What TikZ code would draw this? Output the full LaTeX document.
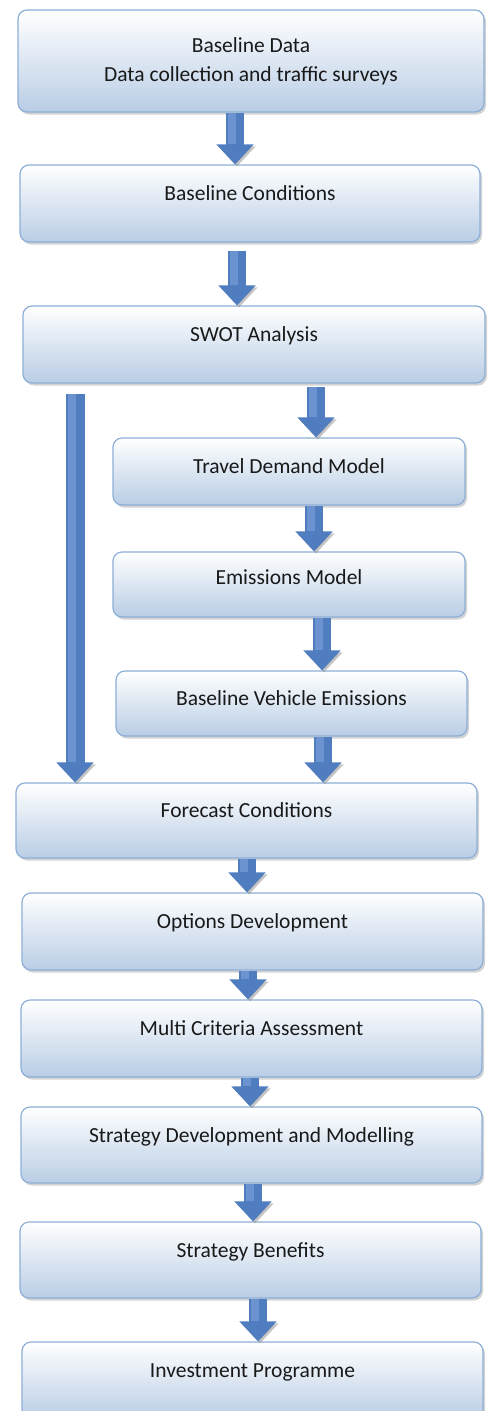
\documentclass[tikz,border=0pt]{standalone}
\usepackage{fontspec}
\setmainfont{Carlito}
\usetikzlibrary{arrows.meta,shadows}
\definecolor{boxline}{RGB}{141,175,215}
\definecolor{boxfill}{RGB}{185,205,229}
\definecolor{flowblue}{RGB}{79,125,192}
\definecolor{flowlight}{RGB}{106,147,207}

\begin{document}
\begin{tikzpicture}[x=1pt, y=-1pt,
  box/.style={draw=boxline, line width=1.2pt, rounded corners=9pt,
    top color=white, bottom color=boxfill,
    drop shadow={shadow xshift=2pt, shadow yshift=-2.5pt, opacity=0.35},
    inner sep=0pt, font=\fontsize{21.5}{29}\selectfont, text=black!90,
    align=center, text height=14pt, text depth=20pt},
  flow/.style={flowblue, line width=18pt, -{Triangle[width=36pt,length=20pt]},
    preaction={draw=black!45, opacity=0.5, transform canvas={shift={(2pt,-2pt)}}},
    postaction={draw=flowlight, line width=8pt, -, shorten >=20pt,
      transform canvas={xshift=-3pt}}}]
\useasboundingbox (0,0) rectangle (488,1411);
\node[box, minimum width=466pt, minimum height=102pt, text height=, text depth=] (base) at (251, 61) {Baseline Data\\Data collection and traffic surveys};
\node[box, minimum width=460pt, minimum height=77pt] (cond) at (250, 203.5) {Baseline Conditions};
\node[box, minimum width=462pt, minimum height=77pt] (swot) at (254, 344.5) {SWOT Analysis};
\node[box, minimum width=352pt, minimum height=67pt, text depth=10pt] (tdm) at (289, 471.5) {Travel Demand Model};
\node[box, minimum width=352pt, minimum height=65pt, text depth=14pt] (emis) at (289, 584.5) {Emissions Model};
\node[box, minimum width=351pt, minimum height=65pt, text depth=10pt] (bve) at (291.5, 703.5) {Baseline Vehicle Emissions};
\node[box, minimum width=461pt, minimum height=75pt] (fore) at (246.5, 820.5) {Forecast Conditions};
\node[box, minimum width=461pt, minimum height=77pt] (opts) at (252.5, 931.5) {Options Development};
\node[box, minimum width=461pt, minimum height=77pt] (mca) at (251.5, 1038.5) {Multi Criteria Assessment};
\node[box, minimum width=461pt, minimum height=76pt] (sdm) at (251.5, 1145) {Strategy Development and Modelling};
\node[box, minimum width=461pt, minimum height=76pt] (sben) at (250.5, 1260) {Strategy Benefits};
\node[box, minimum width=461pt, minimum height=77pt] (inv) at (252.5, 1380.5) {Investment Programme};
\draw[flow] (base.south -| 235,0) -- (cond.north -| 235,0);
\draw[flow, shorten <=8pt] (cond.south -| 237,0) -- (swot.north -| 237,0);
\draw[flow, shorten <=3pt] (swot.south -| 316,0) -- (tdm.north -| 316,0);
\draw[flow] (tdm.south -| 314,0) -- (emis.north -| 314,0);
\draw[flow] (emis.south -| 322,0) -- (bve.north -| 322,0);
\draw[flow] (bve.south -| 323,0) -- (fore.north -| 323,0);
\draw[flow, line width=19pt, shorten <=10pt] (swot.south -| 75,0) -- (fore.north -| 75,0);
\draw[flow] (fore.south -| 247,0) -- (opts.north -| 247,0);
\draw[flow] (opts.south -| 248,0) -- (mca.north -| 248,0);
\draw[flow] (mca.south -| 250,0) -- (sdm.north -| 250,0);
\draw[flow] (sdm.south -| 253,0) -- (sben.north -| 253,0);
\draw[flow] (sben.south -| 258,0) -- (inv.north -| 258,0);
\end{tikzpicture}
\end{document}
